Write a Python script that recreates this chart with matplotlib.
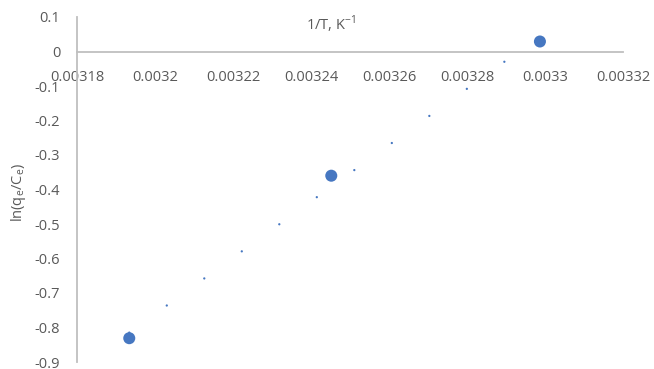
import numpy as np
import matplotlib.pyplot as plt

# ------------------------------------------------------------
# Data: ln(qe/Ce) vs 1/T
# ------------------------------------------------------------
inv_T = [0.0031934, 0.0032452, 0.0032987]
ln_qc = [-0.831, -0.360, 0.029]

x_ticks = [0.00318, 0.0032, 0.00322, 0.00324, 0.00326, 0.00328, 0.0033, 0.00332]
x_tick_labels = ["0.00318", "0.0032", "0.00322", "0.00324", "0.00326", "0.00328", "0.0033", "0.00332"]
y_ticks = [0.1, 0, -0.1, -0.2, -0.3, -0.4, -0.5, -0.6, -0.7, -0.8, -0.9]
y_tick_labels = ["0.1", "0", "-0.1", "-0.2", "-0.3", "-0.4", "-0.5", "-0.6", "-0.7", "-0.8", "-0.9"]

blue = "#4677C1"
grey_txt = "#595959"
grey_ax = "#BFBFBF"

plt.rcParams["font.family"] = ["Open Sans", "DejaVu Sans"]
plt.rcParams["mathtext.fontset"] = "custom"
plt.rcParams["mathtext.rm"] = "Open Sans"
plt.rcParams["lines.scale_dashes"] = False

fig = plt.figure(figsize=(6.54, 3.69), dpi=100)
W, H = 654, 369
ax = fig.add_axes([77 / W, 1 - 362 / H, (623 - 77) / W, (362 - 17) / H])

# linear trendline (round dots)
coef = np.polyfit(inv_T, ln_qc, 1)
xt = np.array([min(inv_T), max(inv_T)])
ax.plot(xt, np.polyval(coef, xt), color=blue, lw=1.7,
        dashes=(0.01, 33.3), dash_capstyle="round", zorder=2)

ax.scatter(inv_T, ln_qc, s=75, color=blue, edgecolors="none", zorder=3)

ax.set_xlim(0.00318, 0.00332)
ax.set_ylim(-0.9, 0.1)
ax.set_xticks(x_ticks)
ax.set_xticklabels(x_tick_labels)
ax.set_yticks(y_ticks)
ax.set_yticklabels(y_tick_labels)

ax.spines["top"].set_visible(False)
ax.spines["right"].set_visible(False)
ax.spines["bottom"].set_position(("data", 0))
for s in ("left", "bottom"):
    ax.spines[s].set_color(grey_ax)
    ax.spines[s].set_linewidth(1.3)

ax.tick_params(axis="both", length=0, labelsize=10.5, colors=grey_txt)
ax.tick_params(axis="x", pad=13)
ax.tick_params(axis="y", pad=12)

fig.text(331 / W, 1 - 24 / H, r"1/T, K$^{\mathregular{-1}}$", ha="center", va="center",
         fontsize=10.5, color=grey_txt)
fig.text(18 / W, 1 - 193 / H, r"ln(q$_{\mathregular{e}}$/C$_{\mathregular{e}}$)", ha="center",
         va="center", rotation=90, fontsize=10.5, color=grey_txt)

fig.savefig("out.png", dpi=100)
